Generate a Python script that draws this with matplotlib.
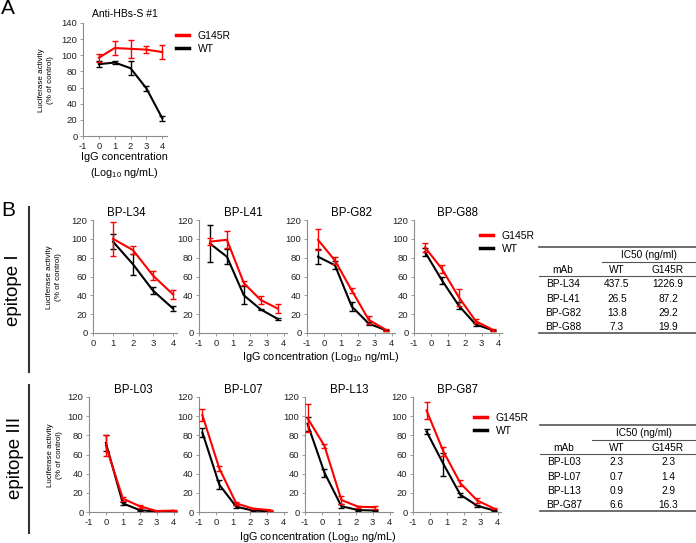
import numpy as np
import matplotlib
matplotlib.use('Agg')
from matplotlib import pyplot as plt
from matplotlib.lines import Line2D

plt.rcParams['font.family'] = ['Liberation Sans', 'DejaVu Sans']
plt.rcParams['mathtext.fontset'] = 'custom'
plt.rcParams['mathtext.rm'] = 'Liberation Sans'
plt.rcParams['axes.unicode_minus'] = False

W, H = 696, 543
RED = '#ff0000'
BLK = '#000000'
GRAY = '#8c8c8c'

# ---- data (log10 ng/mL, % of control) ----
a_x = [0, 1, 2, 3, 4]
a_mut = [97, 109, 108, 107, 104]
a_mut_sd = [5, 9, 11, 4, 9]
a_wt = [89, 91, 84, 59, 22]
a_wt_sd = [4, 2, 9, 3.5, 3]

# epitope I
l34_x = [1, 2, 3, 4]
l34_mut = [100, 88, 61, 41]
l34_mut_sd = [18, 4, 5, 5]
l34_wt = [97, 73, 45, 26]
l34_wt_sd = [8, 11, 4, 3]

l41_x = [-0.35, 0.65, 1.65, 2.65, 3.65]
l41_mut = [97, 99, 53, 35, 26]
l41_mut_sd = [3.5, 9, 2.5, 4, 4.5]
l41_wt = [95, 81, 40, 25, 15]
l41_wt_sd = [20, 8, 9.5, 1, 1]

g82_x = [-0.35, 0.65, 1.65, 2.65, 3.65]
g82_mut = [99, 77, 45, 14, 3.5]
g82_mut_sd = [11, 4, 2.5, 4, 1]
g82_wt = [81, 72, 28, 10, 3]
g82_wt_sd = [8, 4.5, 5, 1.5, 0.5]

g88_x = [-0.35, 0.65, 1.65, 2.65, 3.65]
g88_mut = [91, 68, 38, 12.5, 3.5]
g88_mut_sd = [5, 4, 9, 2, 1]
g88_wt = [86, 56, 29, 9, 3]
g88_wt_sd = [4, 4, 3.5, 1.5, 0.5]

# epitope III
l03_x = [0, 1, 2, 3, 4]
l03_mut = [69, 14, 6, 1, 1.5]
l03_mut_sd = [11, 2, 1.5, 0.3, 0.5]
l03_wt = [72, 9, 2, 0.3, 0.5]
l03_wt_sd = [8, 1.5, 0.5, 0.2, 0.2]

l07_x = [-0.8, 0.2, 1.2, 2.2, 3.2]
l07_mut = [101, 45.5, 9, 3.5, 2]
l07_mut_sd = [6, 2.5, 1.5, 0.5, 0.5]
l07_wt = [83, 28.5, 5.5, 1.5, 0.7]
l07_wt_sd = [5, 5, 1.5, 0.5, 0.3]

l13_x = [-0.85, 0.15, 1.15, 2.15, 3.15]
l13_mut = [98, 69, 12.5, 5.5, 5]
l13_mut_sd = [15, 2, 4, 1, 1.5]
l13_wt = [92, 41, 6, 2, 1.5]
l13_wt_sd = [7.5, 4, 2, 0.5, 0.3]

g87_x = [-0.2, 0.8, 1.8, 2.8, 3.8]
g87_mut = [106, 63, 30, 12, 3.5]
g87_mut_sd = [8.5, 5, 3, 3, 0.8]
g87_wt = [84, 50, 18, 6.5, 1.5]
g87_wt_sd = [3, 12, 2, 1, 0.3]

# IC50 tables
t1_mab = ['BP-L34', 'BP-L41', 'BP-G82', 'BP-G88']
t1_wt = ['437.5', '26.5', '13.8', '7.3']
t1_mut = ['1226.9', '87.2', '29.2', '19.9']
t2_mab = ['BP-L03', 'BP-L07', 'BP-L13', 'BP-G87']
t2_wt = ['2.3', '0.7', '0.9', '6.6']
t2_mut = ['2.3', '1.4', '2.9', '16.3']

fig = plt.figure(figsize=(W / 100, H / 100), dpi=100)


def fx(px):
    return px / W


def fy(py):
    return 1 - py / H


def make_ax(left, top, width, height):
    return fig.add_axes([fx(left), fy(top + height), width / W, height / H])


def style(ax, xlim, xticks, ymax):
    ax.set_xlim(*xlim)
    ax.set_ylim(0, ymax)
    ax.set_xticks(xticks)
    ax.set_yticks(np.arange(0, ymax + 1, 20))
    for s in ['top', 'right']:
        ax.spines[s].set_visible(False)
    for s in ['left', 'bottom']:
        ax.spines[s].set_color(GRAY)
        ax.spines[s].set_linewidth(0.8)
    ax.tick_params(labelsize=6.8, length=2, width=0.6, color=GRAY,
                   labelcolor='#222222', pad=2)
    ax.patch.set_alpha(0)


def curves(ax, x, mut, mut_sd, wt, wt_sd):
    ax.errorbar(x, wt, yerr=wt_sd, color=BLK, lw=1.5, capsize=2.5,
                elinewidth=1.0, capthick=1.0, zorder=2)
    ax.errorbar(x, mut, yerr=mut_sd, color=RED, lw=1.5, capsize=2.5,
                elinewidth=1.0, capthick=1.0, zorder=3)


def legend_at(ax, left, top):
    h = [Line2D([], [], color=RED, lw=2.5), Line2D([], [], color=BLK, lw=2.5)]
    ax.legend(h, ['G145R', 'WT'], loc='upper left',
              bbox_to_anchor=(fx(left), fy(top)), bbox_transform=fig.transFigure,
              frameon=False, fontsize=7.5, handlelength=1.2, handletextpad=0.9,
              labelspacing=0.3, borderpad=0, borderaxespad=0)


def table_at(left, right, top, mab, wt, mut, sub_left):
    def hline(x0, x1, y, lw):
        fig.add_artist(Line2D([fx(x0), fx(x1)], [fy(y), fy(y)],
                              transform=fig.transFigure, color='#555555', lw=lw))
    hline(left, right, top, 1.2)
    fig.text(fx((sub_left + right) / 2), fy(top + 8), 'IC50 (ng/ml)',
             ha='center', va='center', fontsize=7.3)
    hline(sub_left, right, top + 15, 0.8)
    cols = [fx(left + 24), fx(617), fx(668)]
    y = top + 23
    for c, t in zip(cols, ['mAb', 'WT', 'G145R']):
        fig.text(c, fy(y), t, ha='center', va='center', fontsize=7.3)
    hline(left, right, top + 29, 0.8)
    for i in range(len(mab)):
        yy = top + 37 + i * 14.5
        for c, t in zip(cols, [mab[i], wt[i], mut[i]]):
            fig.text(c, fy(yy), t, ha='center', va='center', fontsize=7.3)
    hline(left, right, top + 86, 1.2)


# ---- panel A ----
axA = make_ax(83, 23, 84, 113)
style(axA, (-1, 4.3), range(-1, 5), 140)
curves(axA, a_x, a_mut, a_mut_sd, a_wt, a_wt_sd)
axA.set_title('Anti-HBs-S #1', fontsize=7.5, pad=4)
legend_at(axA, 176, 31)
fig.text(fx(46), fy(80), 'Luciferase activity\n(% of control)', rotation=90,
         ha='center', va='center', fontsize=5.8, linespacing=1.25)
fig.text(fx(124), fy(166), 'IgG concentration\n(Log$_{10}$ ng/mL)',
         ha='center', va='center', fontsize=7.8, linespacing=1.5)
fig.text(fx(1), fy(9), 'A', fontsize=15, va='center')

# ---- panel B, epitope I ----
row1 = [
    ('BP-L34', 93, (0, 4.2), range(0, 5), 84, l34_x, l34_mut, l34_mut_sd, l34_wt, l34_wt_sd),
    ('BP-L41', 199, (-1, 4.2), range(-1, 5), 88, l41_x, l41_mut, l41_mut_sd, l41_wt, l41_wt_sd),
    ('BP-G82', 307, (-1, 4.2), range(-1, 5), 88, g82_x, g82_mut, g82_mut_sd, g82_wt, g82_wt_sd),
    ('BP-G88', 414, (-1, 4.2), range(-1, 5), 88, g88_x, g88_mut, g88_mut_sd, g88_wt, g88_wt_sd),
]
row2 = [
    ('BP-L03', 89, (-1, 4.2), range(-1, 5), 88, l03_x, l03_mut, l03_mut_sd, l03_wt, l03_wt_sd),
    ('BP-L07', 199, (-1, 4.2), range(-1, 5), 88, l07_x, l07_mut, l07_mut_sd, l07_wt, l07_wt_sd),
    ('BP-L13', 305, (-1, 4.2), range(-1, 5), 88, l13_x, l13_mut, l13_mut_sd, l13_wt, l13_wt_sd),
    ('BP-G87', 413, (-1, 4.2), range(-1, 5), 88, g87_x, g87_mut, g87_mut_sd, g87_wt, g87_wt_sd),
]

for top, hgt, row in [(220, 113, row1), (397, 115, row2)]:
    last = None
    for name, left, xl, xt, wd, x, m, msd, w, wsd in row:
        ax = make_ax(left, top, wd, hgt)
        style(ax, xl, xt, 120)
        curves(ax, x, m, msd, w, wsd)
        tx = 0.4 if name == 'BP-L34' else 0.5
        ax.set_title(name, fontsize=8.3, pad=3, x=tx)
        last = ax
    if row is row1:
        legend_at(last, 480, 231)
        table_at(539, 696, 247, t1_mab, t1_wt, t1_mut, 602)
        fig.text(fx(54), fy(277), 'Luciferase activity\n(% of control)', rotation=90,
                 ha='center', va='center', fontsize=5.8, linespacing=1.25)
        fig.text(fx(321), fy(357), 'IgG concentration (Log$_{10}$ ng/mL)',
                 ha='center', va='center', fontsize=7.8)
    else:
        legend_at(last, 474, 413)
        table_at(540, 696, 425, t2_mab, t2_wt, t2_mut, 592)
        fig.text(fx(55), fy(455), 'Luciferase activity\n(% of control)', rotation=90,
                 ha='center', va='center', fontsize=5.8, linespacing=1.25)
        fig.text(fx(318), fy(537), 'IgG concentration (Log$_{10}$ ng/mL)',
                 ha='center', va='center', fontsize=7.8)

fig.text(fx(1), fy(211), 'B', fontsize=15, va='center')

# epitope brackets
fig.add_artist(Line2D([fx(29), fx(29)], [fy(207), fy(372)], transform=fig.transFigure,
                      color='#333333', lw=1.5))
fig.add_artist(Line2D([fx(29), fx(29)], [fy(385), fy(533)], transform=fig.transFigure,
                      color='#333333', lw=1.5))
fig.text(fx(14), fy(290), 'epitope I', rotation=90, ha='center', va='center', fontsize=13.5)
fig.text(fx(15), fy(458), 'epitope III', rotation=90, ha='center', va='center', fontsize=13.5)

fig.savefig('out.png', dpi=100)
